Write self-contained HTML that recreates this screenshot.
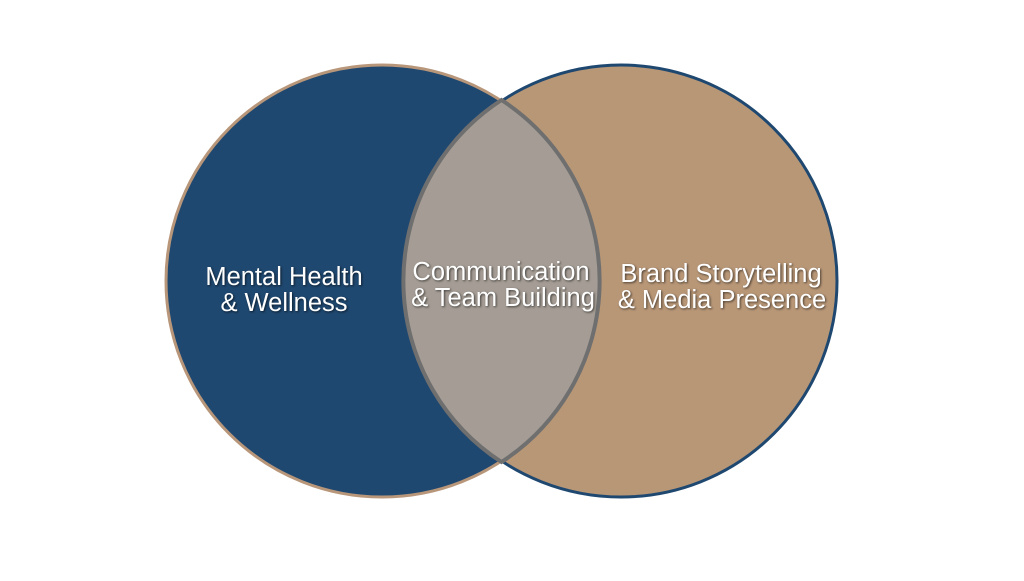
<!DOCTYPE html>
<html><head><style>
body{margin:0;width:1024px;height:576px;background:#fff;overflow:hidden}
text{font-family:"Liberation Sans",sans-serif;font-size:25.5px;fill:#fff;text-anchor:middle;filter:drop-shadow(1px 1px 1px rgba(0,0,0,.6))}
</style></head><body>
<svg width="1024" height="576" viewBox="0 0 1024 576">
<defs><clipPath id="cl"><circle cx="382" cy="281" r="217"/></clipPath></defs>
<circle cx="382" cy="281" r="216" fill="#1f4870" stroke="#b8967a" stroke-width="3"/>
<circle cx="621" cy="281" r="216" fill="#b89777" stroke="#1f4870" stroke-width="3"/>
<circle cx="621" cy="281" r="216" fill="#a59d95" clip-path="url(#cl)"/>
<path d="M501.5 100 A216 216 0 0 1 501.5 462 A216 216 0 0 1 501.5 100 Z" fill="none" stroke="#6f6f6f" stroke-width="4"/>
<text x="284" y="285">Mental Health</text>
<text x="284" y="311">&amp; Wellness</text>
<text x="501" y="280">Communication</text>
<text x="503" y="306">&amp; Team Building</text>
<text x="721" y="282">Brand Storytelling</text>
<text x="722" y="308">&amp; Media Presence</text>
</svg>
</body></html>
